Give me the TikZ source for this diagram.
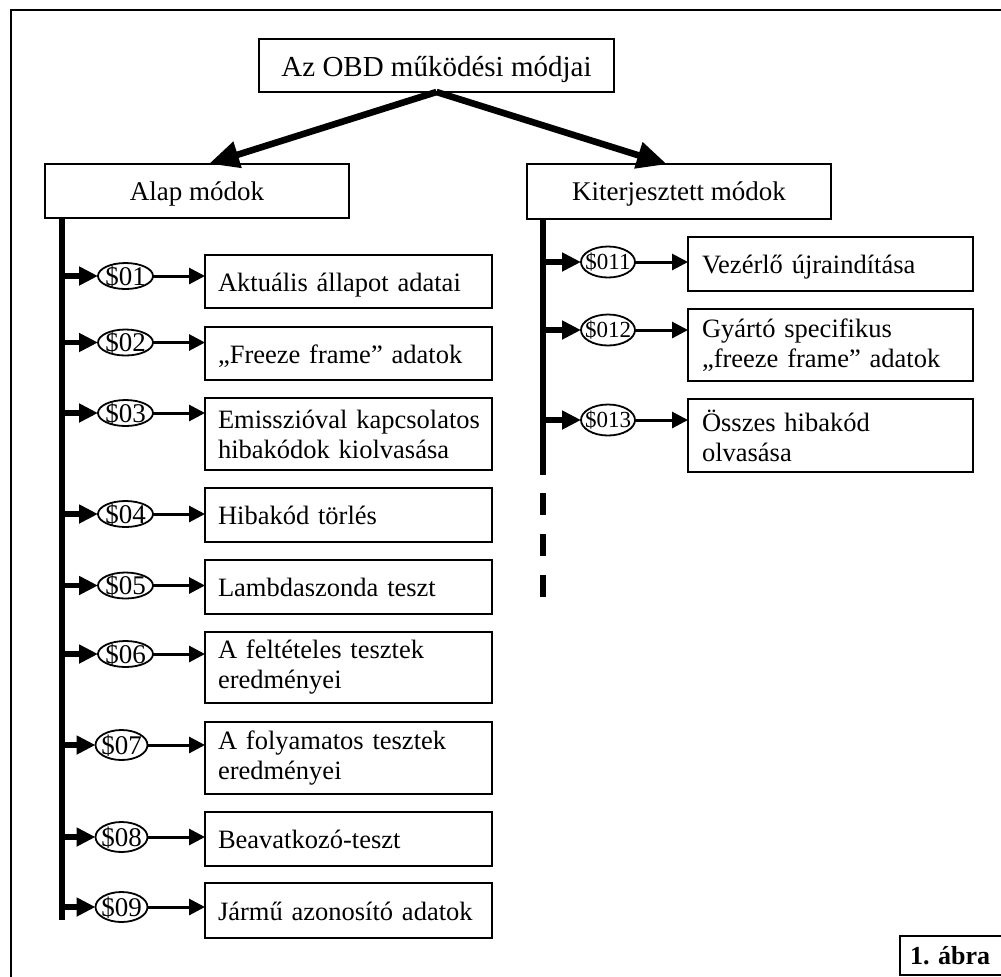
\documentclass[tikz,border=0pt]{standalone}
\usepackage{fontspec}
\setmainfont{Liberation Serif}
\usetikzlibrary{arrows.meta,shapes.geometric}
\newcommand{\elltext}[1]{\raisebox{-0.34em}[0pt][0pt]{\makebox[0pt]{#1}}}
\begin{document}
\begin{tikzpicture}[x=0.5pt,y=-0.5pt,
  every node/.style={inner sep=0pt, outer sep=0pt},
  titlebox/.style={draw, line width=1pt, minimum width=177.5pt, minimum height=26.5pt,
    font=\fontsize{14.5}{17}\selectfont, text height=11pt, text depth=0pt},
  catbox/.style={draw, line width=1pt, minimum width=152pt, minimum height=27.25pt,
    font=\fontsize{13.5}{15}\selectfont, text height=9pt, text depth=0pt},
  lbox/.style={draw, line width=1pt, text width=130.5pt, inner xsep=6.5pt, inner ysep=0pt,
    align=left, font=\fontsize{13.25}{15}\selectfont, minimum height=#1},
  lbox1/.style={lbox=#1, text height=9.5pt, text depth=0pt},
  rbox/.style={draw, line width=1pt, text width=128.5pt, inner xsep=7pt, inner ysep=0pt,
    align=left, font=\fontsize{13.25}{15}\selectfont, minimum height=#1},
  rbox1/.style={rbox=#1, text height=9.5pt, text depth=0pt},
  ellA/.style={draw, ellipse, line width=0.9pt, minimum width=27.5pt, minimum height=13pt,
    font=\fontsize{13.5}{15}\selectfont},
  ellB/.style={draw, ellipse, line width=0.9pt, minimum width=26pt, minimum height=15pt,
    font=\fontsize{13.5}{15}\selectfont},
  ellC/.style={draw, ellipse, line width=0.9pt, minimum width=27pt, minimum height=15.5pt,
    font=\fontsize{11.5}{13}\selectfont},
  bigarrow/.style={line width=3.3pt, -{Triangle[length=15pt,width=13pt]}},
  trunkarrow/.style={line width=2.6pt, -{Triangle[length=9.5pt,width=9pt]}},
  itemarrow/.style={line width=1.5pt, -{Triangle[length=8pt,width=8pt]}},
  trunk/.style={line width=2.7pt},
  framebox/.style={draw, line width=1.25pt, anchor=west, text width=45pt, inner xsep=5pt,
    minimum height=19.5pt, font=\bfseries\fontsize{13}{15}\selectfont, align=left,
    text height=9pt, text depth=0pt}
]
\useasboundingbox (0,0) rectangle (1001,976);

% outer frame
\draw[line width=1.25pt] (1012,10) -- (11,10) -- (11,990);

% top and category boxes
\node[titlebox] (top) at (436.5,65.5) {Az OBD működési módjai};
\node[catbox] (alap) at (197,191) {Alap módok};
\node[catbox] (kit) at (679,191.5) {Kiterjesztett módok};

\draw[bigarrow] (top.south) -- ([xshift=6pt]alap.north);
\draw[bigarrow] (top.south) -- ([xshift=-6pt]kit.north);

% left trunk
\coordinate (tl) at ([xshift=8.5pt]alap.south west);
\coordinate (tlend) at (62,920);
\draw[trunk] (tl) -- (tlend);

% right trunk
\coordinate (tr) at ([xshift=8pt]kit.south west);
\coordinate (trmid) at (543,475);
\coordinate (trd) at (543,493);
\coordinate (trend) at (543,597);
\draw[trunk, line width=2.8pt] (tr) -- (trmid);
\draw[trunk, line width=2.8pt, dash pattern=on 11pt off 9.5pt] (trd) -- (trend);

% left boxes
\node[lbox1=26.5pt] (b1) at (348.5,281.5) {Aktuális állapot adatai};
\node[lbox1=26.5pt] (b2) at (348.5,353.5) {„Freeze frame” adatok};
\node[lbox=36pt] (b3) at (348.5,434) {\mbox{Emisszióval kapcsolatos}\\\mbox{hibakódok kiolvasása}};
\node[lbox1=27pt] (b4) at (348.5,515) {Hibakód törlés};
\node[lbox1=27pt] (b5) at (348.5,587) {Lambdaszonda teszt};
\node[lbox=35.5pt] (b6) at (348.5,667.5) {\mbox{A feltételes tesztek}\\eredményei};
\node[lbox=36pt] (b7) at (348.5,758) {\mbox{A folyamatos tesztek}\\eredményei};
\node[lbox1=27pt] (b8) at (348.5,839) {Beavatkozó-teszt};
\node[lbox1=27.5pt] (b9) at (348.5,910.5) {Jármű azonosító adatok};

% left ellipses
\node[ellA] (e1) at (125.5,276) {\elltext{\$01}};
\node[ellA] (e2) at (125.5,342.5) {\elltext{\$02}};
\node[ellA] (e3) at (125.5,413) {\elltext{\$03}};
\node[ellA] (e4) at (125.5,514) {\elltext{\$04}};
\node[ellA] (e5) at (125.5,585.5) {\elltext{\$05}};
\node[ellA] (e6) at (125.5,654) {\elltext{\$06}};
\node[ellB] (e7) at (121.5,745) {\elltext{\$07}};
\node[ellB] (e8) at (121.5,837) {\elltext{\$08}};
\node[ellB] (e9) at (121.5,907) {\elltext{\$09}};

\foreach \i in {1,...,9}{
  \draw[trunkarrow] (e\i.west -| tl) -- (e\i.west);
  \draw[itemarrow] (e\i.east) -- (e\i.east -| b\i.west);
}

% right boxes
\node[rbox1=27pt] (c1) at (830.5,264) {Vezérlő újraindítása};
\node[rbox=36pt] (c2) at (830.5,345) {\mbox{Gyártó specifikus}\\\mbox{„freeze frame” adatok}};
\node[rbox=36.5pt] (c3) at (830.5,435.5) {\mbox{Összes hibakód}\\olvasása};

% right ellipses
\node[ellC] (f1) at (608,262) {\elltext{\$011}};
\node[ellC] (f2) at (608,330) {\elltext{\$012}};
\node[ellC] (f3) at (608,420) {\elltext{\$013}};

\foreach \i in {1,2,3}{
  \draw[trunkarrow] (f\i.west -| tr) -- (f\i.west);
  \draw[itemarrow] (f\i.east) -- (f\i.east -| c\i.west);
}

% figure label
\node[framebox] (fig) at (900,955.5) {1.\ ábra};
\end{tikzpicture}
\end{document}
